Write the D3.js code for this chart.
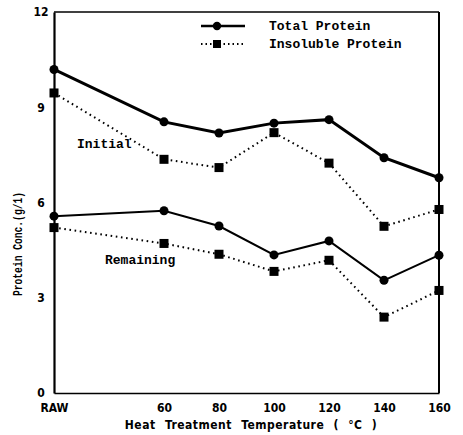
<!DOCTYPE html>
<html>
<head>
<meta charset="utf-8">
<script src="https://cdn.jsdelivr.net/npm/d3@7"></script>
<style>
  body { margin: 0; background: #fff; }
  svg { display: block; }
</style>
</head>
<body>
<script>
// temperatures (RAW placed at 20 so the gap to 60 is two steps)
let temps = [20, 60, 80, 100, 120, 140, 160]
let tempLabels = ['RAW', '60', '80', '100', '120', '140', '160']
let yTicks = [0, 3, 6, 9, 12]

let totalInitial = [10.19, 8.54, 8.19, 8.50, 8.61, 7.41, 6.78]
let insolInitial = [9.45, 7.36, 7.10, 8.20, 7.24, 5.25, 5.78]
let totalRemain = [5.57, 5.74, 5.26, 4.35, 4.79, 3.55, 4.34]
let insolRemain = [5.21, 4.71, 4.37, 3.83, 4.18, 2.39, 3.23]

let width = 463
let height = 435
let m = { left: 54, right: 24, top: 12, bottom: 42 }

let svg = d3.select('body')
  .append('svg')
  .attr('width', width)
  .attr('height', height)

let x = d3.scaleLinear().domain([20, 160]).range([m.left, width - m.right])
let y = d3.scaleLinear().domain([0, 12]).range([height - m.bottom, m.top])

let tickFont = '"DejaVu Sans Condensed", "DejaVu Sans", sans-serif'
let monoFont = '"Liberation Mono", "DejaVu Sans Mono", monospace'

// frame
svg.append('line')
  .attr('x1', x(160)).attr('x2', x(160))
  .attr('y1', y(12)).attr('y2', y(0))
  .attr('stroke', '#000').attr('stroke-width', 2)
svg.append('line')
  .attr('x1', x(20)).attr('x2', x(160))
  .attr('y1', y(12)).attr('y2', y(12))
  .attr('stroke', '#000').attr('stroke-width', 1.5)

let yAxis = svg.append('g')
  .attr('transform', 'translate(' + m.left + ',0)')
  .call(d3.axisLeft(y).tickValues(yTicks).tickSize(0).tickPadding(10))
yAxis.select('.domain').attr('stroke-width', 2.2)
yAxis.selectAll('text')
  .attr('font-family', tickFont)
  .attr('font-weight', 'bold')
  .attr('font-size', 12)
  .attr('text-anchor', 'middle')
  .attr('x', -13)

let xAxis = svg.append('g')
  .attr('transform', 'translate(0,' + y(0) + ')')
  .call(d3.axisBottom(x).tickValues(temps).tickSize(0).tickPadding(10)
    .tickFormat((d, i) => tempLabels[i]))
xAxis.select('.domain').attr('stroke-width', 1.5)
xAxis.selectAll('text')
  .attr('font-family', tickFont)
  .attr('font-weight', 'bold')
  .attr('font-size', 12)

// axis titles
svg.append('text')
  .attr('x', 251)
  .attr('y', 429)
  .attr('text-anchor', 'middle')
  .attr('font-family', tickFont)
  .attr('font-weight', 'bold')
  .attr('font-size', 12)
  .attr('letter-spacing', 0.5)
  .attr('word-spacing', 5)
  .text('Heat Treatment Temperature ( °C )')

svg.append('text')
  .attr('transform', 'translate(22,244) rotate(-90)')
  .attr('text-anchor', 'middle')
  .attr('font-family', monoFont)
  .attr('font-weight', 'bold')
  .attr('font-size', 12.5)
  .attr('textLength', 104)
  .attr('lengthAdjust', 'spacingAndGlyphs')
  .text('Protein Conc.(g/1)')

let line = d3.line()
  .x((d, i) => x(temps[i]))
  .y(d => y(d))

function drawSeries(vals, solid, sw) {
  svg.append('path')
    .datum(vals)
    .attr('d', line)
    .attr('fill', 'none')
    .attr('stroke', '#000')
    .attr('stroke-width', sw)
    .attr('stroke-dasharray', solid ? null : '1.6,3.6')
  if (solid) {
    svg.selectAll(null)
      .data(vals)
      .enter()
      .append('circle')
      .attr('cx', (d, i) => x(temps[i]))
      .attr('cy', d => y(d))
      .attr('r', 4.5)
      .attr('fill', '#000')
  } else {
    svg.selectAll(null)
      .data(vals)
      .enter()
      .append('rect')
      .attr('x', (d, i) => x(temps[i]) - 4.5)
      .attr('y', d => y(d) - 4.5)
      .attr('width', 9)
      .attr('height', 9)
      .attr('fill', '#000')
  }
}

drawSeries(totalInitial, true, 3)
drawSeries(insolInitial, false, 2)
drawSeries(totalRemain, true, 2)
drawSeries(insolRemain, false, 2)

// series labels
svg.append('text')
  .attr('x', 77).attr('y', 148)
  .attr('font-family', monoFont)
  .attr('font-weight', 'bold')
  .attr('font-size', 13)
  .text('Initial')
svg.append('text')
  .attr('x', 105).attr('y', 264)
  .attr('font-family', monoFont)
  .attr('font-weight', 'bold')
  .attr('font-size', 13)
  .text('Remaining')

// legend
let legend = svg.append('g')
legend.append('line')
  .attr('x1', 201).attr('x2', 245).attr('y1', 26).attr('y2', 26)
  .attr('stroke', '#000').attr('stroke-width', 2.5)
legend.append('circle')
  .attr('cx', 217).attr('cy', 26).attr('r', 4.2).attr('fill', '#000')
legend.append('line')
  .attr('x1', 201).attr('x2', 245).attr('y1', 44).attr('y2', 44)
  .attr('stroke', '#000').attr('stroke-width', 1.8)
  .attr('stroke-dasharray', '1.5,3')
legend.append('rect')
  .attr('x', 213).attr('y', 40).attr('width', 8).attr('height', 8).attr('fill', '#000')
legend.selectAll('text')
  .data(['Total Protein', 'Insoluble Protein'])
  .enter()
  .append('text')
  .attr('x', 269)
  .attr('y', (d, i) => 30 + i * 18)
  .attr('font-family', monoFont)
  .attr('font-size', 13)
  .attr('font-weight', 'bold')
  .text(d => d)
</script>
</body>
</html>
